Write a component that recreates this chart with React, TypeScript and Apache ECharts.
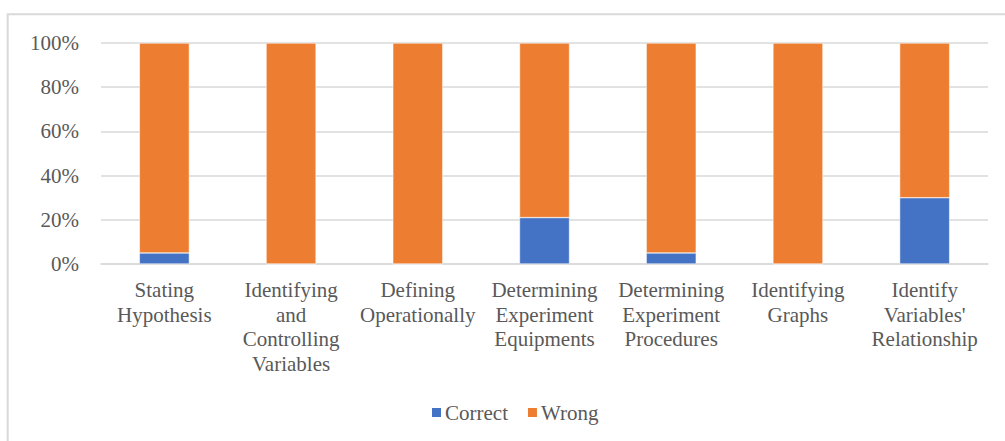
import React, { useEffect, useRef } from "react";
import * as echarts from "echarts";

// Skill categories shown along the x axis (wrapped onto several lines)
const categories = [
  "Stating\nHypothesis",
  "Identifying\nand\nControlling\nVariables",
  "Defining\nOperationally",
  "Determining\nExperiment\nEquipments",
  "Determining\nExperiment\nProcedures",
  "Identifying\nGraphs",
  "Identify\nVariables'\nRelationship",
];

// Share of answers per category, in percent
const correct = [5, 0, 0, 21, 5, 0, 30];
const wrong = [95, 100, 100, 79, 95, 100, 70];

const yTicks = { min: 0, max: 100, interval: 20 };

const TEXT = "#595959";
const GRID = "#D9D9D9";
const FONT = "'Liberation Serif', 'Times New Roman', serif";

export default function App() {
  const ref = useRef<HTMLDivElement>(null);

  useEffect(() => {
    if (!ref.current) return;
    const chart = echarts.init(ref.current, null, { renderer: "svg" });
    chart.setOption({
      animation: false,
      backgroundColor: "#ffffff",
      textStyle: { fontFamily: FONT },
      graphic: [
        {
          type: "rect",
          shape: { x: 7.7, y: 14.3, width: 1200, height: 600 },
          style: { fill: "none", stroke: GRID, lineWidth: 2 },
          silent: true,
        },
      ],
      grid: { left: 101, right: 17, top: 43, bottom: 177 },
      legend: {
        left: 425,
        top: 397,
        itemWidth: 11,
        itemHeight: 11,
        itemGap: 18,
        icon: "rect",
        textStyle: { color: TEXT, fontSize: 21, fontFamily: FONT, padding: [0, 0, 0, -2] },
        data: ["Correct", "Wrong"],
      },
      xAxis: {
        type: "category",
        data: categories,
        axisLine: { show: true, lineStyle: { color: GRID, width: 1.5 } },
        axisTick: { show: false },
        axisLabel: {
          color: TEXT,
          fontSize: 21,
          fontFamily: FONT,
          lineHeight: 24.5,
          margin: 14,
          interval: 0,
        },
      },
      yAxis: {
        type: "value",
        min: yTicks.min,
        max: yTicks.max,
        interval: yTicks.interval,
        axisLine: { show: false },
        axisTick: { show: false },
        splitLine: { lineStyle: { color: GRID, width: 1.5 } },
        axisLabel: {
          color: TEXT,
          fontSize: 21,
          fontFamily: FONT,
          margin: 22,
          formatter: "{value}%",
        },
      },
      series: [
        {
          name: "Correct",
          type: "bar",
          stack: "total",
          barWidth: 50,
          data: correct,
          itemStyle: { color: "#4472C4", borderColor: "#ffffff", borderWidth: 0.5 },
        },
        {
          name: "Wrong",
          type: "bar",
          stack: "total",
          barWidth: 50,
          data: wrong,
          itemStyle: { color: "#ED7D31", borderColor: "#ffffff", borderWidth: 0.5 },
        },
      ],
    });
    return () => chart.dispose();
  }, []);

  return (
    <div
      ref={ref}
      style={{ position: "fixed", left: 0, top: 0, width: 1005, height: 441 }}
    />
  );
}
